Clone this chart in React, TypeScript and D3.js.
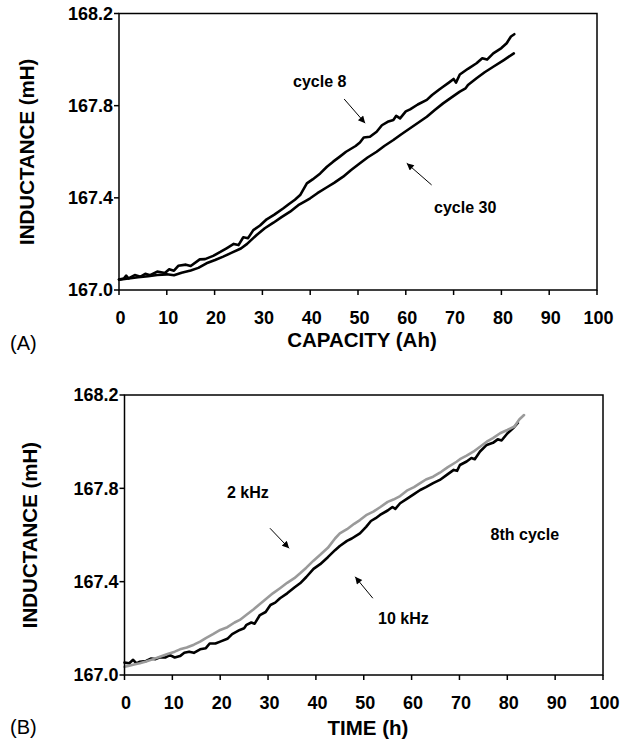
import React from "react";
import * as d3 from "d3";

// ---------- data ----------
const xTicks = [0, 10, 20, 30, 40, 50, 60, 70, 80, 90, 100];
const yTicks = [167.0, 167.4, 167.8, 168.2];

// Panel A: inductance vs capacity
const cycle8: [number, number][] = [
  [0, 167.045], [1, 167.05], [1.5, 167.062], [2, 167.05], [3.3, 167.065], [4.5, 167.058],
  [5.5, 167.07], [6.5, 167.064], [8, 167.08], [9.6, 167.074], [10.5, 167.09], [11.5, 167.084],
  [12.4, 167.105], [14, 167.11], [15, 167.104], [16.9, 167.133], [18, 167.134], [19.7, 167.148],
  [21.2, 167.165], [22.5, 167.181], [24, 167.2], [25, 167.195], [26, 167.229], [27, 167.225],
  [28.1, 167.26], [29.5, 167.28], [30.9, 167.307], [32.5, 167.327], [34.4, 167.355], [35.5, 167.372],
  [36.8, 167.392], [37.9, 167.412], [39.3, 167.463], [40.5, 167.48], [42.1, 167.506], [43.5, 167.535],
  [44.8, 167.557], [46.2, 167.579], [47.5, 167.6], [49.5, 167.625], [50.4, 167.64], [51.2, 167.662],
  [52.5, 167.665], [53.9, 167.687], [55, 167.715], [56.2, 167.73], [57.4, 167.738], [58, 167.756],
  [58.8, 167.745], [60, 167.775], [60.9, 167.784], [62.5, 167.805], [64.4, 167.825], [65.5, 167.846],
  [67, 167.87], [67.8, 167.882], [69, 167.9], [70, 167.916], [70.5, 167.9], [71.3, 167.935],
  [73, 167.96], [74.8, 167.984], [76, 168.006], [77, 168.0], [78.3, 168.027], [80, 168.05],
  [81.1, 168.071], [82, 168.1], [82.7, 168.11],
];
const cycle30: [number, number][] = [
  [0, 167.045], [2, 167.05], [4, 167.055], [6.1, 167.06], [8, 167.065], [10, 167.068],
  [11.5, 167.064], [13.1, 167.075], [15, 167.085], [16.6, 167.096], [18.3, 167.116], [20.1, 167.13],
  [21.8, 167.145], [23.6, 167.162], [25.5, 167.18], [26.8, 167.2], [28.8, 167.239], [30.5, 167.268],
  [32.3, 167.292], [34, 167.316], [35.8, 167.34], [37.5, 167.368], [39, 167.386], [40, 167.398],
  [41.5, 167.42], [43.5, 167.446], [45, 167.465], [46.9, 167.492], [48.5, 167.52], [50.4, 167.55],
  [52, 167.575], [53.9, 167.6], [55.5, 167.625], [57.4, 167.651], [59, 167.675], [60.9, 167.702],
  [62.5, 167.725], [64.4, 167.752], [66, 167.78], [67.8, 167.81], [69.5, 167.835], [71.3, 167.861],
  [72.5, 167.875], [73, 167.89], [74.8, 167.919], [76.5, 167.945], [78.3, 167.969], [80.5, 167.998],
  [82.6, 168.027],
];

// Panel B: inductance vs time, 8th cycle
const khz2: [number, number][] = [
  [0, 167.035], [1, 167.04], [2, 167.045], [3.2, 167.05], [4.5, 167.058], [6, 167.068],
  [7.4, 167.078], [9, 167.09], [10.5, 167.1], [11.6, 167.11], [13, 167.118], [14.5, 167.13],
  [15.8, 167.143], [17, 167.158], [18.5, 167.175], [20, 167.193], [21.5, 167.205], [23, 167.225],
  [24.1, 167.236], [25.5, 167.258], [27, 167.282], [28.3, 167.304], [29.5, 167.325], [31, 167.35],
  [32.5, 167.372], [34, 167.395], [35.5, 167.415], [36.7, 167.436], [38, 167.46], [39.5, 167.49],
  [40.9, 167.515], [42.5, 167.545], [44, 167.585], [45, 167.607], [46.5, 167.625], [48, 167.648],
  [49.2, 167.664], [50.5, 167.685], [52, 167.7], [53.4, 167.719], [55, 167.742], [56.2, 167.752],
  [57.6, 167.767], [59, 167.79], [60.5, 167.805], [61.8, 167.822], [63, 167.838], [64.5, 167.85],
  [65.9, 167.867], [67.5, 167.89], [69.4, 167.914], [70.1, 167.925], [71.5, 167.94], [72.9, 167.957],
  [74.3, 167.978], [75.7, 168.0], [77, 168.015], [78.5, 168.036], [80, 168.05], [81.5, 168.065],
  [82.5, 168.095], [83.5, 168.114],
];
const khz10: [number, number][] = [
  [0, 167.053], [1, 167.05], [1.8, 167.065], [2.5, 167.05], [3.2, 167.057], [4.5, 167.06],
  [5.5, 167.07], [6.5, 167.068], [7.4, 167.076], [8.5, 167.075], [9.5, 167.085], [10.5, 167.075],
  [11.6, 167.081], [12.5, 167.095], [13.5, 167.1], [14.5, 167.095], [15.8, 167.11], [17, 167.115],
  [17.8, 167.135], [19, 167.135], [20, 167.143], [21.5, 167.155], [22.5, 167.175], [24.1, 167.193],
  [25, 167.2], [25.5, 167.215], [26.5, 167.225], [27.2, 167.22], [28.3, 167.257], [29.5, 167.27],
  [30.5, 167.3], [31.5, 167.31], [32.5, 167.329], [34, 167.35], [35.5, 167.375], [36.7, 167.393],
  [38, 167.42], [39.5, 167.455], [40.9, 167.475], [42.5, 167.505], [44, 167.535], [45, 167.553],
  [46.5, 167.575], [47.5, 167.585], [49.2, 167.607], [50.5, 167.635], [51.5, 167.66], [52.5, 167.672],
  [53.4, 167.686], [55, 167.705], [56, 167.72], [56.6, 167.712], [57.6, 167.736], [59, 167.755],
  [60.5, 167.775], [61.8, 167.793], [63, 167.805], [64.5, 167.822], [65.9, 167.836], [67.5, 167.86],
  [68.8, 167.879], [69.5, 167.875], [70.1, 167.9], [71.5, 167.915], [72.5, 167.93], [73.2, 167.925],
  [74.3, 167.958], [75.7, 167.986], [77, 167.995], [78, 168.01], [78.8, 168.005], [80, 168.035],
  [81.2, 168.057], [82.2, 168.08],
];

// annotations (data units)
const labelsA = [
  { text: "cycle 8", x: 36.4, y: 167.879 },
  { text: "cycle 30", x: 65.9, y: 167.334 },
];
const arrowsA = [
  { x1: 47.1, y1: 167.829, x2: 51.5, y2: 167.724 },
  { x1: 65.4, y1: 167.456, x2: 60.2, y2: 167.55 },
];
const labelsB = [
  { text: "2 kHz", x: 21.4, y: 167.757 },
  { text: "10 kHz", x: 53.0, y: 167.217 },
  { text: "8th cycle", x: 76.5, y: 167.579 },
];
const arrowsB = [
  { x1: 30.4, y1: 167.629, x2: 34.4, y2: 167.543 },
  { x1: 51.9, y1: 167.329, x2: 48.2, y2: 167.421 },
];

const FONT = "'Liberation Sans', Arial, Helvetica, sans-serif";

type Series = { data: [number, number][]; color: string; width: number };

function Panel(props: {
  left: number; right: number; top: number; bottom: number;
  series: Series[];
  labels: { text: string; x: number; y: number }[];
  arrows: { x1: number; y1: number; x2: number; y2: number }[];
  xTitle: string; xTitleX: number; xTitleY: number;
  yTitleX: number; panel: string; panelY: number; id: string;
}) {
  const { left, right, top, bottom } = props;
  const x = d3.scaleLinear().domain([0, 100]).range([left, right]);
  const y = d3.scaleLinear().domain([167.0, 168.2]).range([bottom, top]);
  const line = d3.line<[number, number]>().x((d) => x(d[0])).y((d) => y(d[1]));
  const midY = (top + bottom) / 2;
  return (
    <g>
      <defs>
        <marker id={"ah" + props.id} viewBox="0 0 10 10" refX="10" refY="5"
          markerWidth="9" markerHeight="7" markerUnits="userSpaceOnUse" orient="auto">
          <path d="M0,0 L10,5 L0,10 z" fill="#000" />
        </marker>
      </defs>
      {props.series.map((s, i) => (
        <path key={i} d={line(s.data) || ""} fill="none" stroke={s.color}
          strokeWidth={s.width} strokeLinejoin="round" strokeLinecap="round" />
      ))}
      <rect x={left} y={top} width={right - left} height={bottom - top}
        fill="none" stroke="#000" strokeWidth={1.5} />
      {xTicks.map((t) => (
        <g key={"x" + t}>
          <line x1={x(t)} x2={x(t)} y1={bottom} y2={bottom + 5} stroke="#000" strokeWidth={1.5} />
          <text x={x(t) + 1.5} y={bottom + 34} textAnchor="middle" fontFamily={FONT}
            fontWeight="bold" fontSize={18}>{t}</text>
        </g>
      ))}
      {yTicks.map((t) => (
        <g key={"y" + t}>
          <line x1={left - 5} x2={left} y1={y(t)} y2={y(t)} stroke="#000" strokeWidth={1.5} />
          <text x={left - 6} y={y(t) + 6.3} textAnchor="end" fontFamily={FONT}
            fontWeight="bold" fontSize={18}>{t.toFixed(1)}</text>
        </g>
      ))}
      {props.labels.map((l, i) => (
        <text key={"l" + i} x={x(l.x)} y={y(l.y)} fontFamily={FONT} fontWeight="bold"
          fontSize={16}>{l.text}</text>
      ))}
      {props.arrows.map((a, i) => (
        <line key={"a" + i} x1={x(a.x1)} y1={y(a.y1)} x2={x(a.x2)} y2={y(a.y2)}
          stroke="#000" strokeWidth={1} markerEnd={`url(#ah${props.id})`} />
      ))}
      <text x={props.xTitleX} y={props.xTitleY} textAnchor="middle" fontFamily={FONT}
        fontWeight="bold" fontSize={20.5}>{props.xTitle}</text>
      <text transform={`translate(${props.yTitleX},${midY}) rotate(-90)`} textAnchor="middle"
        fontFamily={FONT} fontWeight="bold" fontSize={20.5}>INDUCTANCE (mH)</text>
      <text x={10} y={props.panelY} fontFamily={FONT} fontSize={20}>{props.panel}</text>
    </g>
  );
}

export default function App() {
  return (
    <svg width={631} height={751} style={{ position: "absolute", left: 0, top: 0, background: "#fff" }}>
      <rect x={0} y={0} width={631} height={751} fill="#fff" />
      <Panel id="A" left={119} right={597} top={13.5} bottom={290}
        series={[
          { data: cycle30, color: "#000", width: 2.6 },
          { data: cycle8, color: "#000", width: 2.6 },
        ]}
        labels={labelsA} arrows={arrowsA}
        xTitle="CAPACITY (Ah)" xTitleX={362} xTitleY={347}
        yTitleX={34} panel="(A)" panelY={350} />
      <Panel id="B" left={124.5} right={603} top={395} bottom={675}
        series={[
          { data: khz10, color: "#000", width: 2.6 },
          { data: khz2, color: "#9a9a9a", width: 2.6 },
        ]}
        labels={labelsB} arrows={arrowsB}
        xTitle="TIME (h)" xTitleX={368} xTitleY={735}
        yTitleX={37} panel="(B)" panelY={734} />
    </svg>
  );
}
